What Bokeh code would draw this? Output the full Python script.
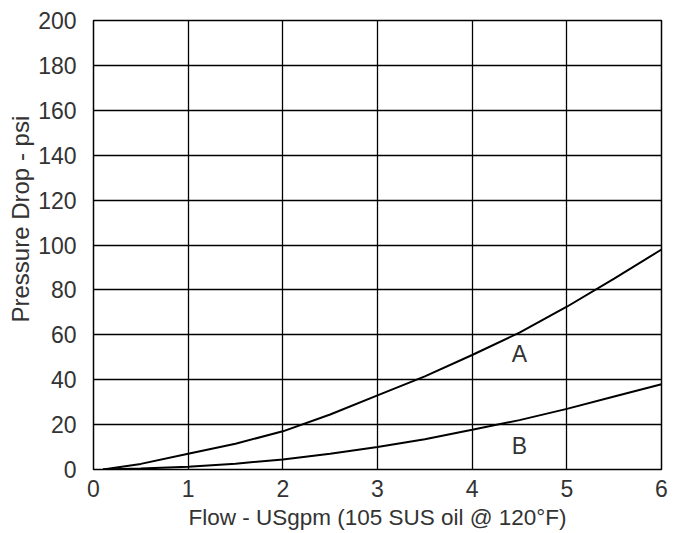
from bokeh.plotting import figure
from bokeh.models import Range1d, FixedTicker, Label, Title
from bokeh.embed import file_html
from bokeh.resources import INLINE

flow = [0.1, 0.5, 1.0, 1.5, 2.0, 2.5, 3.0, 3.5, 4.0, 4.5, 5.0, 5.5, 6.0]
curve_a = [0.0, 2.5, 7.0, 11.5, 17.0, 24.5, 33.0, 41.5, 51.0, 61.0, 72.5, 85.0, 98.0]
curve_b = [0.0, 0.4, 1.2, 2.6, 4.5, 7.0, 10.0, 13.5, 17.7, 22.0, 27.0, 32.5, 38.0]
x_ticks = [0, 1, 2, 3, 4, 5, 6]
y_ticks = [0, 20, 40, 60, 80, 100, 120, 140, 160, 180, 200]
labels = [("A", 4.5, 51.5), ("B", 4.5, 10.5)]
x_title = "Flow - USgpm (105 SUS oil @ 120°F)"
y_title = "Pressure Drop - psi"

FONT = "Liberation Sans"
TXT = "#333333"

p = figure(width=675, height=532, output_backend="svg", toolbar_location=None,
           x_range=Range1d(0, 6), y_range=Range1d(0, 200),
           min_border_left=93, min_border_right=14, min_border_top=20, min_border_bottom=63)

p.outline_line_color = "black"
p.outline_line_width = 1.5
p.outline_line_alpha = 1

for ax in (p.xaxis[0], p.yaxis[0]):
    ax.axis_line_color = None
    ax.major_tick_line_color = None
    ax.minor_tick_line_color = None
    ax.major_label_text_font = FONT
    ax.major_label_text_font_size = "23px"
    ax.major_label_text_color = TXT
    ax.axis_label_text_font = FONT
    ax.axis_label_text_color = TXT
    ax.axis_label_text_font_style = "normal"

p.xaxis.axis_label_text_font_size = "22.5px"
p.xaxis.ticker = FixedTicker(ticks=x_ticks)
p.yaxis.ticker = FixedTicker(ticks=y_ticks)
p.xaxis.major_label_standoff = 4
p.yaxis.major_label_standoff = 11
p.xaxis.axis_label = x_title
p.xaxis.axis_label_standoff = 5

p.xgrid.ticker = FixedTicker(ticks=x_ticks)
p.ygrid.ticker = FixedTicker(ticks=y_ticks)
for g in (p.xgrid[0], p.ygrid[0]):
    g.grid_line_color = "black"
    g.grid_line_alpha = 1
    g.grid_line_width = 1.3

p.line(flow, curve_a, line_color="black", line_width=2)
p.line(flow, curve_b, line_color="black", line_width=2)

for t, x, y in labels:
    p.add_layout(Label(x=x, y=y, text=t, text_align="center", text_baseline="middle",
                       text_font=FONT, text_font_size="23px", text_color=TXT))

# y-axis title, starting a little above the frame's bottom as in the reference
p.add_layout(Title(text=y_title, align="left", offset=147, standoff=4,
                   text_font=FONT, text_font_size="24px", text_color=TXT,
                   text_font_style="normal"), "left")

open("out.html", "w").write(file_html(p, INLINE))
